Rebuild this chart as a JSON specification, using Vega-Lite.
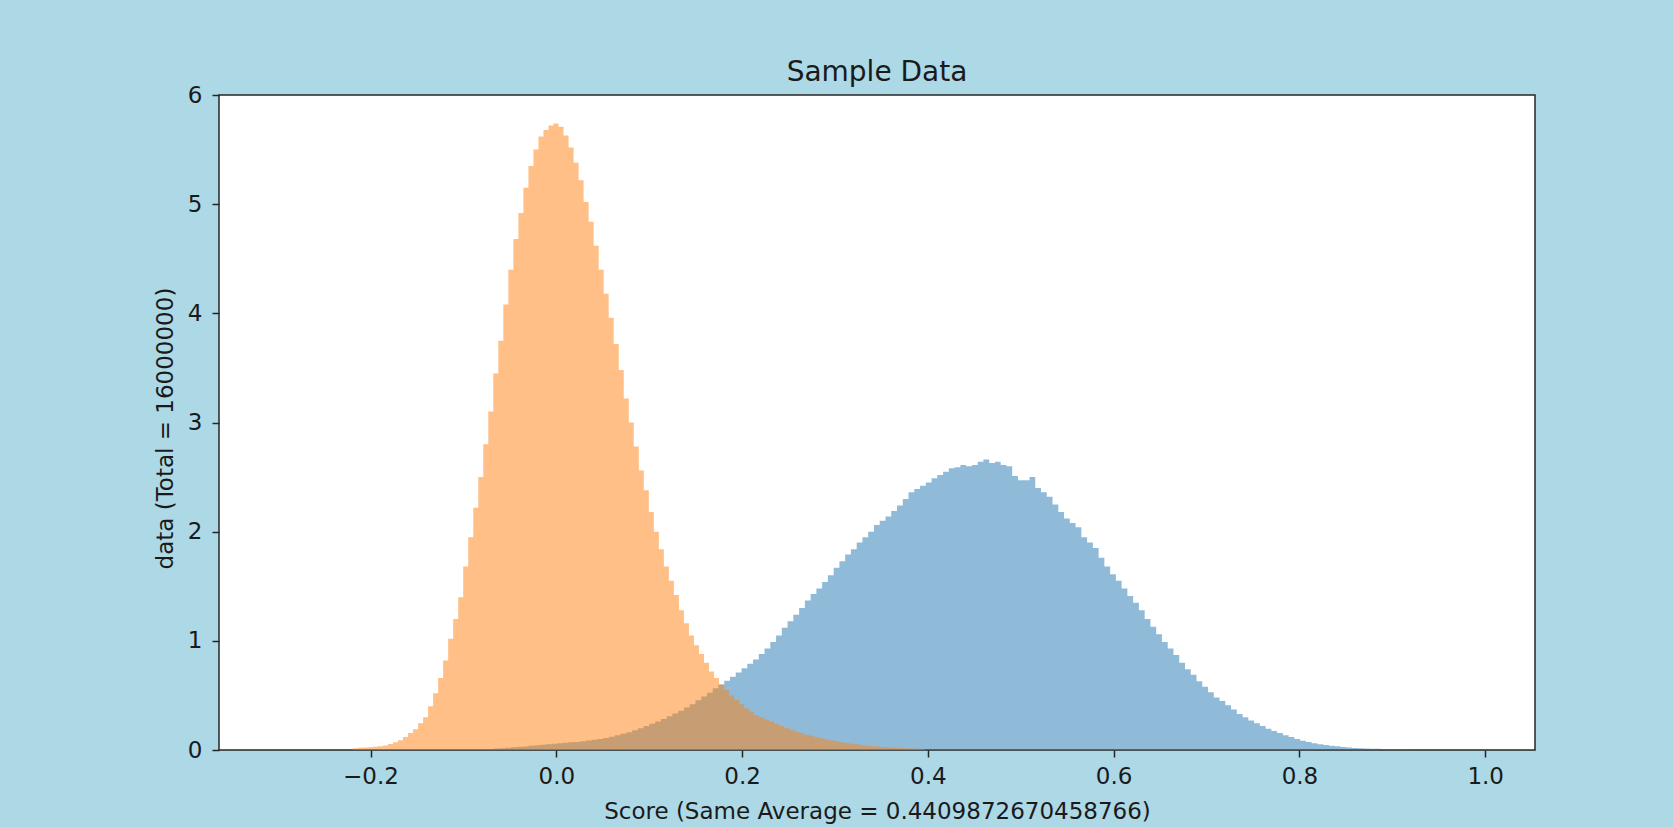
{
  "$schema": "https://vega.github.io/schema/vega-lite/v6.json",
  "width": 1316,
  "height": 655,
  "autosize": {"type": "none"},
  "padding": {"left": 219, "top": 95, "right": 138, "bottom": 77},
  "background": "#add8e6",
  "title": {"text": "Sample Data", "fontSize": 28, "font": "DejaVu Sans", "fontWeight": "normal", "color": "#1a1a1a", "frame": "group", "anchor": "middle", "baseline": "alphabetic", "offset": 16, "dy": 41},
  "config": {"view": {"fill": "white", "stroke": "#262626", "strokeWidth": 1.5}, "font": "DejaVu Sans"},
  "datasets": {
    "blue": [
      {"score": -0.0858, "density": 0.005}, {"score": -0.0796, "density": 0.007}, {"score": -0.0734, "density": 0.01}, {"score": -0.0672, "density": 0.013},
      {"score": -0.0610, "density": 0.017}, {"score": -0.0548, "density": 0.021}, {"score": -0.0486, "density": 0.025}, {"score": -0.0424, "density": 0.029},
      {"score": -0.0362, "density": 0.033}, {"score": -0.0300, "density": 0.038}, {"score": -0.0238, "density": 0.043}, {"score": -0.0176, "density": 0.048},
      {"score": -0.0114, "density": 0.053}, {"score": -0.0052, "density": 0.058}, {"score": 0.0010, "density": 0.062}, {"score": 0.0072, "density": 0.066},
      {"score": 0.0134, "density": 0.07}, {"score": 0.0196, "density": 0.074}, {"score": 0.0258, "density": 0.08}, {"score": 0.0320, "density": 0.086},
      {"score": 0.0382, "density": 0.093}, {"score": 0.0444, "density": 0.1}, {"score": 0.0506, "density": 0.11}, {"score": 0.0568, "density": 0.122},
      {"score": 0.0630, "density": 0.135}, {"score": 0.0692, "density": 0.148}, {"score": 0.0754, "density": 0.163}, {"score": 0.0816, "density": 0.18},
      {"score": 0.0878, "density": 0.2}, {"score": 0.0940, "density": 0.22}, {"score": 0.1002, "density": 0.24}, {"score": 0.1064, "density": 0.262},
      {"score": 0.1126, "density": 0.285}, {"score": 0.1188, "density": 0.31}, {"score": 0.1250, "density": 0.335}, {"score": 0.1312, "density": 0.36},
      {"score": 0.1374, "density": 0.39}, {"score": 0.1436, "density": 0.42}, {"score": 0.1498, "density": 0.455}, {"score": 0.1560, "density": 0.49},
      {"score": 0.1622, "density": 0.525}, {"score": 0.1684, "density": 0.565}, {"score": 0.1746, "density": 0.6}, {"score": 0.1808, "density": 0.635},
      {"score": 0.1870, "density": 0.67}, {"score": 0.1932, "density": 0.71}, {"score": 0.1994, "density": 0.75}, {"score": 0.2056, "density": 0.79},
      {"score": 0.2118, "density": 0.83}, {"score": 0.2180, "density": 0.88}, {"score": 0.2242, "density": 0.93}, {"score": 0.2304, "density": 0.99},
      {"score": 0.2366, "density": 1.05}, {"score": 0.2428, "density": 1.12}, {"score": 0.2490, "density": 1.18}, {"score": 0.2552, "density": 1.24},
      {"score": 0.2614, "density": 1.3}, {"score": 0.2676, "density": 1.37}, {"score": 0.2738, "density": 1.43}, {"score": 0.2800, "density": 1.48},
      {"score": 0.2862, "density": 1.54}, {"score": 0.2924, "density": 1.6}, {"score": 0.2986, "density": 1.67}, {"score": 0.3048, "density": 1.73},
      {"score": 0.3110, "density": 1.79}, {"score": 0.3172, "density": 1.84}, {"score": 0.3234, "density": 1.9}, {"score": 0.3296, "density": 1.95},
      {"score": 0.3358, "density": 2.0}, {"score": 0.3420, "density": 2.06}, {"score": 0.3482, "density": 2.1}, {"score": 0.3544, "density": 2.14},
      {"score": 0.3606, "density": 2.19}, {"score": 0.3668, "density": 2.24}, {"score": 0.3730, "density": 2.3}, {"score": 0.3792, "density": 2.36},
      {"score": 0.3854, "density": 2.39}, {"score": 0.3916, "density": 2.42}, {"score": 0.3978, "density": 2.45}, {"score": 0.4040, "density": 2.49},
      {"score": 0.4102, "density": 2.52}, {"score": 0.4164, "density": 2.55}, {"score": 0.4226, "density": 2.58}, {"score": 0.4288, "density": 2.59},
      {"score": 0.4350, "density": 2.61}, {"score": 0.4412, "density": 2.6}, {"score": 0.4474, "density": 2.61}, {"score": 0.4536, "density": 2.64},
      {"score": 0.4598, "density": 2.66}, {"score": 0.4660, "density": 2.63}, {"score": 0.4722, "density": 2.64}, {"score": 0.4784, "density": 2.61},
      {"score": 0.4846, "density": 2.6}, {"score": 0.4908, "density": 2.51}, {"score": 0.4970, "density": 2.47}, {"score": 0.5032, "density": 2.47},
      {"score": 0.5094, "density": 2.5}, {"score": 0.5156, "density": 2.4}, {"score": 0.5218, "density": 2.36}, {"score": 0.5280, "density": 2.32},
      {"score": 0.5342, "density": 2.25}, {"score": 0.5404, "density": 2.18}, {"score": 0.5466, "density": 2.12}, {"score": 0.5528, "density": 2.08},
      {"score": 0.5590, "density": 2.04}, {"score": 0.5652, "density": 1.95}, {"score": 0.5714, "density": 1.9}, {"score": 0.5776, "density": 1.85},
      {"score": 0.5838, "density": 1.76}, {"score": 0.5900, "density": 1.68}, {"score": 0.5962, "density": 1.61}, {"score": 0.6024, "density": 1.55},
      {"score": 0.6086, "density": 1.48}, {"score": 0.6148, "density": 1.41}, {"score": 0.6210, "density": 1.35}, {"score": 0.6272, "density": 1.28},
      {"score": 0.6334, "density": 1.2}, {"score": 0.6396, "density": 1.13}, {"score": 0.6458, "density": 1.06}, {"score": 0.6520, "density": 0.99},
      {"score": 0.6582, "density": 0.93}, {"score": 0.6644, "density": 0.87}, {"score": 0.6706, "density": 0.8}, {"score": 0.6768, "density": 0.74},
      {"score": 0.6830, "density": 0.69}, {"score": 0.6892, "density": 0.63}, {"score": 0.6954, "density": 0.58}, {"score": 0.7016, "density": 0.53},
      {"score": 0.7078, "density": 0.48}, {"score": 0.7140, "density": 0.45}, {"score": 0.7202, "density": 0.41}, {"score": 0.7264, "density": 0.37},
      {"score": 0.7326, "density": 0.33}, {"score": 0.7388, "density": 0.3}, {"score": 0.7450, "density": 0.27}, {"score": 0.7512, "density": 0.245},
      {"score": 0.7574, "density": 0.22}, {"score": 0.7636, "density": 0.195}, {"score": 0.7698, "density": 0.175}, {"score": 0.7760, "density": 0.155},
      {"score": 0.7822, "density": 0.135}, {"score": 0.7884, "density": 0.118}, {"score": 0.7946, "density": 0.1}, {"score": 0.8008, "density": 0.085},
      {"score": 0.8070, "density": 0.073}, {"score": 0.8132, "density": 0.062}, {"score": 0.8194, "density": 0.053}, {"score": 0.8256, "density": 0.046},
      {"score": 0.8318, "density": 0.04}, {"score": 0.8380, "density": 0.034}, {"score": 0.8442, "density": 0.028}, {"score": 0.8504, "density": 0.023},
      {"score": 0.8566, "density": 0.019}, {"score": 0.8628, "density": 0.016}, {"score": 0.8690, "density": 0.013}, {"score": 0.8752, "density": 0.012},
      {"score": 0.8814, "density": 0.011}, {"score": 0.8876, "density": 0.01}, {"score": 0.8938, "density": 0.009}, {"score": 0.9000, "density": 0.008},
      {"score": 0.9062, "density": 0.008}, {"score": 0.9124, "density": 0.007}, {"score": 0.9186, "density": 0}
    ],
    "orange": [
      {"score": -0.2190, "density": 0.015}, {"score": -0.2136, "density": 0.02}, {"score": -0.2082, "density": 0.022}, {"score": -0.2028, "density": 0.026},
      {"score": -0.1974, "density": 0.03}, {"score": -0.1920, "density": 0.035}, {"score": -0.1866, "density": 0.042}, {"score": -0.1812, "density": 0.055},
      {"score": -0.1758, "density": 0.072}, {"score": -0.1704, "density": 0.09}, {"score": -0.1650, "density": 0.12}, {"score": -0.1596, "density": 0.155},
      {"score": -0.1542, "density": 0.19}, {"score": -0.1488, "density": 0.245}, {"score": -0.1434, "density": 0.3}, {"score": -0.1380, "density": 0.4},
      {"score": -0.1326, "density": 0.52}, {"score": -0.1272, "density": 0.66}, {"score": -0.1218, "density": 0.82}, {"score": -0.1164, "density": 1.02},
      {"score": -0.1110, "density": 1.2}, {"score": -0.1056, "density": 1.4}, {"score": -0.1002, "density": 1.68}, {"score": -0.0948, "density": 1.95},
      {"score": -0.0894, "density": 2.22}, {"score": -0.0840, "density": 2.5}, {"score": -0.0786, "density": 2.8}, {"score": -0.0732, "density": 3.1},
      {"score": -0.0678, "density": 3.45}, {"score": -0.0624, "density": 3.75}, {"score": -0.0570, "density": 4.08}, {"score": -0.0516, "density": 4.4},
      {"score": -0.0462, "density": 4.68}, {"score": -0.0408, "density": 4.92}, {"score": -0.0354, "density": 5.15}, {"score": -0.0300, "density": 5.35},
      {"score": -0.0246, "density": 5.5}, {"score": -0.0192, "density": 5.62}, {"score": -0.0138, "density": 5.68}, {"score": -0.0084, "density": 5.72},
      {"score": -0.0030, "density": 5.74}, {"score": 0.0024, "density": 5.71}, {"score": 0.0078, "density": 5.63}, {"score": 0.0132, "density": 5.52},
      {"score": 0.0186, "density": 5.38}, {"score": 0.0240, "density": 5.22}, {"score": 0.0294, "density": 5.02}, {"score": 0.0348, "density": 4.84},
      {"score": 0.0402, "density": 4.62}, {"score": 0.0456, "density": 4.4}, {"score": 0.0510, "density": 4.18}, {"score": 0.0564, "density": 3.96},
      {"score": 0.0618, "density": 3.72}, {"score": 0.0672, "density": 3.48}, {"score": 0.0726, "density": 3.22}, {"score": 0.0780, "density": 3.0},
      {"score": 0.0834, "density": 2.78}, {"score": 0.0888, "density": 2.56}, {"score": 0.0942, "density": 2.38}, {"score": 0.0996, "density": 2.18},
      {"score": 0.1050, "density": 2.0}, {"score": 0.1104, "density": 1.84}, {"score": 0.1158, "density": 1.68}, {"score": 0.1212, "density": 1.55},
      {"score": 0.1266, "density": 1.42}, {"score": 0.1320, "density": 1.28}, {"score": 0.1374, "density": 1.16}, {"score": 0.1428, "density": 1.05},
      {"score": 0.1482, "density": 0.96}, {"score": 0.1536, "density": 0.88}, {"score": 0.1590, "density": 0.8}, {"score": 0.1644, "density": 0.72},
      {"score": 0.1698, "density": 0.66}, {"score": 0.1752, "density": 0.6}, {"score": 0.1806, "density": 0.55}, {"score": 0.1860, "density": 0.5},
      {"score": 0.1914, "density": 0.46}, {"score": 0.1968, "density": 0.42}, {"score": 0.2022, "density": 0.38}, {"score": 0.2076, "density": 0.35},
      {"score": 0.2130, "density": 0.32}, {"score": 0.2184, "density": 0.3}, {"score": 0.2238, "density": 0.28}, {"score": 0.2292, "density": 0.26},
      {"score": 0.2346, "density": 0.24}, {"score": 0.2400, "density": 0.22}, {"score": 0.2454, "density": 0.2}, {"score": 0.2508, "density": 0.185},
      {"score": 0.2562, "density": 0.17}, {"score": 0.2616, "density": 0.155}, {"score": 0.2670, "density": 0.14}, {"score": 0.2724, "density": 0.13},
      {"score": 0.2778, "density": 0.118}, {"score": 0.2832, "density": 0.107}, {"score": 0.2886, "density": 0.097}, {"score": 0.2940, "density": 0.088},
      {"score": 0.2994, "density": 0.08}, {"score": 0.3048, "density": 0.072}, {"score": 0.3102, "density": 0.065}, {"score": 0.3156, "density": 0.058},
      {"score": 0.3210, "density": 0.052}, {"score": 0.3264, "density": 0.046}, {"score": 0.3318, "density": 0.041}, {"score": 0.3372, "density": 0.036},
      {"score": 0.3426, "density": 0.032}, {"score": 0.3480, "density": 0.028}, {"score": 0.3534, "density": 0.025}, {"score": 0.3588, "density": 0.022},
      {"score": 0.3642, "density": 0.019}, {"score": 0.3696, "density": 0.017}, {"score": 0.3750, "density": 0.015}, {"score": 0.3804, "density": 0.013},
      {"score": 0.3858, "density": 0.011}, {"score": 0.3912, "density": 0.009}, {"score": 0.3966, "density": 0}
    ]
  },
  "encoding": {
    "x": {
      "field": "score", "type": "quantitative",
      "scale": {"domain": [-0.3631, 1.0536], "nice": false, "zero": false},
      "axis": {
        "values": [-0.2, 0, 0.2, 0.4, 0.6, 0.8, 1.0], "format": ".1f",
        "title": "Score (Same Average = 0.4409872670458766)",
        "grid": false, "domain": false, "tickSize": 7, "tickWidth": 1.5, "tickColor": "#262626",
        "labelFontSize": 23, "labelColor": "#1a1a1a", "labelPadding": 8, "labelFlush": false,
        "titleFontSize": 23, "titleFontWeight": "normal", "titleColor": "#1a1a1a",
        "titleBaseline": "alphabetic", "titleY": 68
      }
    },
    "y": {
      "field": "density", "type": "quantitative", "stack": null,
      "scale": {"domain": [0, 6], "nice": false, "zero": true},
      "axis": {
        "values": [0, 1, 2, 3, 4, 5, 6], "format": "d",
        "title": "data (Total = 16000000)",
        "grid": false, "domain": false, "tickSize": 7, "tickWidth": 1.5, "tickColor": "#262626",
        "labelFontSize": 23, "labelColor": "#1a1a1a", "labelPadding": 10,
        "titleFontSize": 23, "titleFontWeight": "normal", "titleColor": "#1a1a1a",
        "titleBaseline": "alphabetic", "titleX": -47, "titleY": 333
      }
    }
  },
  "layer": [
    {"data": {"name": "blue"}, "mark": {"type": "area", "interpolate": "step-after", "color": "#1f77b4", "opacity": 0.5}},
    {"data": {"name": "orange"}, "mark": {"type": "area", "interpolate": "step-after", "color": "#ff7f0e", "opacity": 0.5}}
  ]
}
